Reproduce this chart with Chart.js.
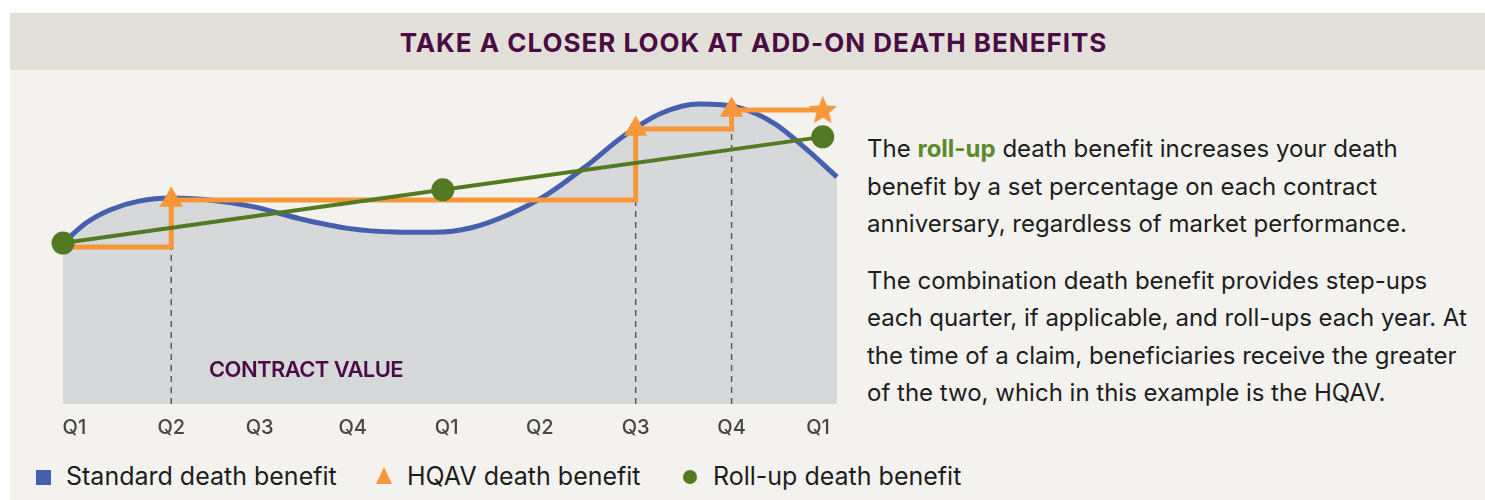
<!DOCTYPE html>
<html>
<head>
<meta charset="utf-8">
<script src="https://cdn.jsdelivr.net/npm/chart.js@4.4.1/dist/chart.umd.min.js"></script>
<style>
  html, body { margin: 0; padding: 0; background: #ffffff; }
  body { width: 1485px; height: 500px; position: relative; overflow: hidden; font-family: Inter, "Noto Sans", sans-serif; }
  .panel { position: absolute; left: 10px; top: 13px; right: 0; bottom: 0; background: #f3f2ee; }
  .band { position: absolute; left: 10px; top: 13px; right: 0; height: 57px; background: #e3e0d9; }
  .band h1 { margin: 0; padding: 1px 0 0 12px; line-height: 57px; text-align: center; font-size: 26px; font-weight: 700; letter-spacing: 1px; color: #4a0c44; }
  #chartWrap { position: absolute; left: 0; top: 80px; width: 860px; height: 372px; }
  .cv { position: absolute; left: 209px; top: 358px; font-size: 22px; line-height: 22px; font-weight: 600; color: #4a0c44; letter-spacing: -0.6px; }
  .copy { position: absolute; left: 867px; top: 130px; font-size: 24px; line-height: 37.5px; color: #1d1d1d; white-space: nowrap; }
  .copy p { margin: 0 0 19px 0; }
  .copy b { color: #5b8a2b; font-weight: 700; }
  .legend { position: absolute; left: 36px; top: 461px; font-size: 25px; line-height: 30px; color: #1d1d1d; }
  .legend span { position: absolute; white-space: nowrap; top: 0; }
  .sw { display: inline-block; }
</style>
</head>
<body>
<div class="panel"></div>
<div class="band"><h1>TAKE A CLOSER LOOK AT ADD-ON DEATH BENEFITS</h1></div>
<div id="chartWrap"><canvas id="benefitChart"></canvas></div>
<div class="cv">CONTRACT VALUE</div>
<div class="copy">
  <p>The <b>roll-up</b> death benefit increases your death<br>benefit by a set percentage on each contract<br>anniversary, regardless of market performance.</p>
  <p>The combination death benefit provides step-ups<br>each quarter, if applicable, and roll-ups each year. At<br>the time of a claim, beneficiaries receive the greater<br>of the two, which in this example is the HQAV.</p>
</div>
<div class="legend" id="legend"></div>

<script>
// Quarter labels and where they sit on the x axis
const quarterLabels = ["Q1", "Q2", "Q3", "Q4", "Q1", "Q2", "Q3", "Q4", "Q1"];
const quarterTicks = [0.12, 1.14, 2.07, 3.05, 4.04, 5.02, 6.03, 7.04, 7.95];

// Standard death benefit (contract value curve)
const standardX = [0, 0.25, 0.5, 0.8, 1.15, 1.5, 2.0, 2.5, 3.0, 3.5, 3.9, 4.3, 4.7, 5.1, 5.5, 5.9, 6.3, 6.7, 7.1, 7.5, 7.8, 8.15];
const standardY = [52.6, 59.3, 63.5, 66.3, 67.3, 66.8, 64.5, 60.5, 57.4, 56.2, 56.1, 57.6, 62.0, 68.5, 77.5, 87.5, 95.0, 98.0, 97.0, 91.5, 84.0, 74.2];

// HQAV death benefit: starting level, then step-ups at Q2, Q3, Q4
const hqavStart = 51.3;
const hqavStepQuarters = [1, 6, 7];
const hqavStepLevels = [66.7, 89.9, 96.1];
const hqavEndX = 8;

// Roll-up death benefit
const rollupX = [0, 4, 8];
const rollupY = [52.6, 70.0, 87.3];

const BLUE = "#4560ad";
const ORANGE = "#f6973a";
const GREEN = "#537a22";

function makeStar(size, color) {
  const c = document.createElement("canvas");
  c.width = size;
  c.height = size;
  const g = c.getContext("2d");
  const cx = size / 2, cy = size / 2 + 1;
  const outer = size / 2, inner = outer * 0.45;
  g.beginPath();
  for (let i = 0; i < 10; i++) {
    const r = i % 2 === 0 ? outer : inner;
    const a = -Math.PI / 2 + (i * Math.PI) / 5;
    const px = cx + r * Math.cos(a);
    const py = cy + r * Math.sin(a);
    if (i === 0) g.moveTo(px, py); else g.lineTo(px, py);
  }
  g.closePath();
  g.fillStyle = color;
  g.fill();
  return c;
}

const starIcon = makeStar(30, ORANGE);

// build the datasets
const standardData = standardX.map((x, i) => ({ x: x, y: standardY[i] }));
const rollupData = rollupX.map((x, i) => ({ x: x, y: rollupY[i] }));

const hqavData = [{ x: 0, y: hqavStart }];
hqavStepQuarters.forEach((q, i) => {
  hqavData.push({ x: quarterTicks[q], y: hqavStepLevels[i] });
});
hqavData.push({ x: hqavEndX, y: hqavStepLevels[hqavStepLevels.length - 1] });

const hqavStyles = hqavData.map((p, i) => {
  if (i === 0) return "circle";
  if (i === hqavData.length - 1) return starIcon;
  return "triangle";
});
const hqavRadius = hqavData.map((p, i) => (i === 0 ? 0 : i === hqavData.length - 1 ? 15 : 13.5));

// dashed guides under each step-up
const guideSets = hqavStepQuarters.map((q, i) => {
  const below = i === 0 ? hqavStart : hqavStepLevels[i - 1];
  return {
    label: "guide",
    data: [{ x: quarterTicks[q], y: 0 }, { x: quarterTicks[q], y: below }],
    borderColor: "#5a5a5a",
    borderWidth: 1.5,
    borderDash: [6, 5],
    pointRadius: 0,
    fill: false,
  };
});

const datasets = [
  {
    label: "Roll-up death benefit",
    data: rollupData,
    borderColor: GREEN,
    backgroundColor: GREEN,
    borderWidth: 4,
    pointRadius: 11.5,
    pointHoverRadius: 11.5,
    pointBorderWidth: 0,
    fill: false,
    tension: 0,
    clip: false,
  },
  {
    label: "HQAV death benefit",
    data: hqavData,
    stepped: "before",
    borderColor: ORANGE,
    backgroundColor: ORANGE,
    borderWidth: 5,
    borderJoinStyle: "miter",
    pointStyle: hqavStyles,
    pointRadius: hqavRadius,
    pointHoverRadius: hqavRadius,
    pointBorderWidth: 0,
    fill: false,
    clip: false,
  },
  {
    label: "Standard death benefit",
    data: standardData,
    borderColor: BLUE,
    backgroundColor: "#d7d8da",
    borderWidth: 5,
    pointRadius: 0,
    cubicInterpolationMode: "monotone",
    fill: "origin",
    clip: false,
  },
].concat(guideSets);

new Chart(document.getElementById("benefitChart"), {
  type: "line",
  data: { datasets: datasets },
  options: {
    responsive: true,
    maintainAspectRatio: false,
    animation: false,
    events: [],
    layout: { padding: { left: 63, right: 23, top: 18, bottom: 0 } },
    plugins: {
      legend: { display: false },
      tooltip: { enabled: false },
      filler: { drawTime: "beforeDatasetsDraw" },
    },
    scales: {
      x: {
        type: "linear",
        min: 0,
        max: 8.15,
        grid: { display: false, drawTicks: false },
        border: { display: false },
        afterBuildTicks: (axis) => {
          axis.ticks = quarterTicks.map((v) => ({ value: v }));
        },
        ticks: {
          autoSkip: false,
          maxRotation: 0,
          padding: 12,
          color: "#474747",
          font: { family: "Inter", size: 20, weight: "500" },
          callback: (value, index) => quarterLabels[index],
        },
      },
      y: {
        display: false,
        min: 0,
        max: 100,
      },
    },
  },
});

// legend row
const legendItems = [
  { text: "Standard death benefit", left: 30, swatch: '<span class="sw" style="position:absolute;left:-30px;top:9px;width:15px;height:15px;background:' + BLUE + '"></span>' },
  { text: "HQAV death benefit", left: 371, swatch: '<span class="sw" style="position:absolute;left:-31px;top:6px;width:0;height:0;border-left:8px solid transparent;border-right:8px solid transparent;border-bottom:17px solid ' + ORANGE + '"></span>' },
  { text: "Roll-up death benefit", left: 677, swatch: '<span class="sw" style="position:absolute;left:-30px;top:9px;width:14px;height:14px;border-radius:50%;background:' + GREEN + '"></span>' },
];
const legendEl = document.getElementById("legend");
legendItems.forEach((item) => {
  const s = document.createElement("span");
  s.style.left = item.left + "px";
  s.innerHTML = item.swatch + item.text;
  legendEl.appendChild(s);
});
</script>
</body>
</html>
